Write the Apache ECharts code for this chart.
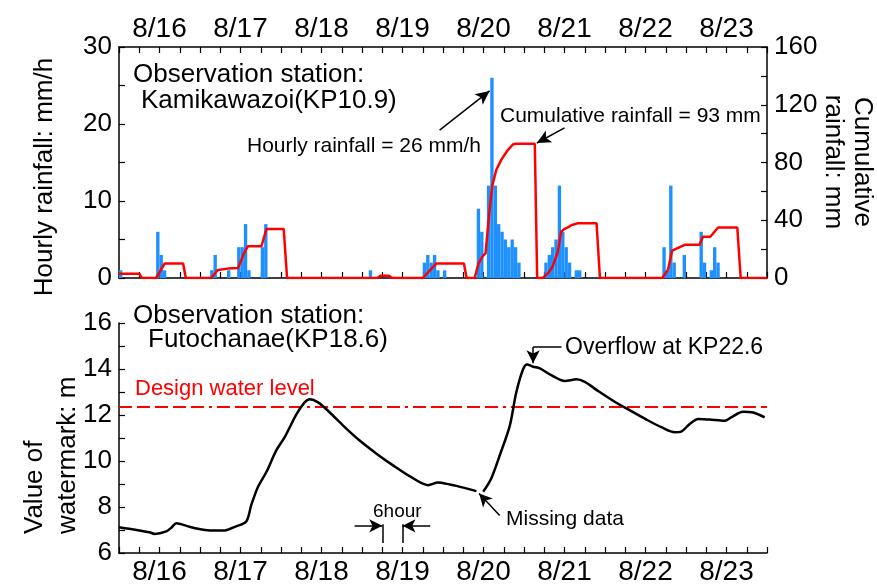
<!DOCTYPE html>
<html>
<head>
<meta charset="utf-8">
<script src="https://cdn.jsdelivr.net/npm/echarts@6/dist/echarts.min.js"></script>
<style>
  html, body { margin: 0; padding: 0; background: #ffffff; }
  #chart { width: 877px; height: 586px; }
</style>
</head>
<body>
<div id="chart"></div>
<script>
// Time axis: hours counted from 8/16 00:00, eight days shown
const dayLabels = ['8/16', '8/17', '8/18', '8/19', '8/20', '8/21', '8/22', '8/23'];
const hoursShown = 192;

// Hourly rainfall at Kamikawazoi (KP10.9): hour index and mm/h
const rainHours = [0, 11, 12, 13, 27, 28, 32, 35, 36, 37, 38, 42, 43, 74,
  90, 91, 92, 93, 94, 96,
  106, 107, 109, 110, 111, 112, 113, 114, 115, 116, 117, 118,
  126, 127, 128, 129, 130, 131, 132, 133, 135, 136,
  161, 162, 163, 164, 167, 172, 173, 175, 176, 177];
const rainValues = [1, 6, 3, 1, 1, 3, 1, 4, 4, 7, 1, 4, 7, 1,
  2, 3, 2, 3, 1, 1,
  9, 6, 12, 26, 12, 7, 6, 5, 4, 5, 4, 2,
  2, 3, 4, 5, 12, 6, 4, 2, 1, 1,
  4, 1, 12, 2, 3, 6, 2, 1, 4, 2];

// Cumulative rainfall per event (mm)
const cumHours = [0, 6, 6.8,
  11, 13.5, 19, 19.8,
  27.3, 29.3, 32.3, 35.3, 37.2, 38.2, 42.2, 43.7, 48.8, 49.8,
  76.5, 77.5, 80, 81,
  90, 94, 102.2, 103,
  105.4, 106.5, 107.7, 108.6, 109.8, 110.6, 111.8, 113.3, 115, 116.7, 117.5, 123.2, 123.9,
  125.5, 127, 128.5, 130, 131, 132, 133, 134, 136, 141.5, 142.5,
  161, 162.7, 163.9, 167.6, 172, 173, 175.2, 177.5, 183.2, 184.2, 192];
const cumValues = [3, 3, 0,
  0, 10, 10, 0,
  0, 5.5, 6.5, 7, 18, 22, 22, 34, 34, 0,
  0, 1.5, 1.5, 0,
  0, 10, 10, 0,
  0, 10, 15, 17, 47, 64, 75, 82, 88, 92.5, 93, 93, 0,
  0, 3, 8, 18, 32, 34, 35, 36.5, 38, 38, 0,
  0, 6, 19, 23, 23, 28.6, 28.6, 35, 35, 0, 0];

// Water level at Futochanae (KP18.6), m; null marks the missing record
const levelHours = [0, 3, 6, 9, 10.6, 14, 15.5, 17, 20, 23.4, 26.9, 31.3, 34.3, 37.7,
  39.2, 41.2, 43.7, 46.6, 49.1, 52.6, 55, 56.5, 59, 62.4, 66.4, 71.3, 76.3, 81.2,
  86.1, 91.6, 94.5, 98, 100, 105.9, 106.9, 107.9, 110.3, 112.8, 115.8, 117.7, 119.7,
  120.9, 122.7, 124.7, 128.1, 132.1, 135.5, 138, 141.9, 146.4, 150.3, 156.3, 160.7,
  164.7, 166.6, 169.1, 171.6, 175, 179.5, 181.4, 184.9, 187.9, 191.3];
const levelValues = [7.12, 7.05, 6.98, 6.9, 6.83, 6.94, 7.1, 7.29, 7.18, 7.05, 6.98, 6.98, 7.14, 7.37,
  8.09, 8.88, 9.53, 10.46, 11.04, 12.04, 12.55, 12.69, 12.55, 12.12, 11.54, 10.89, 10.32, 9.81,
  9.34, 8.95, 9.06, 8.98, 8.92, 8.69, null, 8.66, 9.24, 10.24, 11.54, 12.98, 13.98,
  14.2, 14.1, 14.03, 13.73, 13.48, 13.55, 13.44, 13.05, 12.62, 12.29, 11.8, 11.47,
  11.25, 11.28, 11.61, 11.83, 11.8, 11.75, 11.9, 12.14, 12.11, 11.9];

const designLevel = 12.35;

const FONT = "'Liberation Sans', Arial, Helvetica, sans-serif";
const BLACK = '#000000';
const RED = '#ff0000';
const BLUE = '#1e90ff';

const gridLeft = 119;
const gridWidth = 648;

const chart = echarts.init(document.getElementById('chart'), null, { renderer: 'canvas' });

function dayLabel(v) {
  return (v % 24 === 12) ? dayLabels[(v - 12) / 24] : '';
}

function timeAxis(gridIndex, position, showLabels, margin) {
  return {
    type: 'value', gridIndex: gridIndex, position: position,
    min: 0, max: hoursShown, interval: 6,
    axisLine: { show: true, onZero: false, lineStyle: { color: BLACK, width: 1.5 } },
    axisTick: { show: true, inside: true, length: 6, lineStyle: { color: BLACK, width: 1.2 } },
    axisLabel: { show: showLabels, formatter: dayLabel, color: BLACK, fontSize: 28,
      fontFamily: FONT, margin: margin },
    splitLine: { show: false }
  };
}

function valueAxis(gridIndex, position, min, max, interval, labelStep) {
  return {
    type: 'value', gridIndex: gridIndex, position: position,
    min: min, max: max, interval: interval,
    axisLine: { show: true, onZero: false, lineStyle: { color: BLACK, width: 1.5 } },
    axisTick: { show: true, inside: true, length: 6, lineStyle: { color: BLACK, width: 1.2 } },
    axisLabel: {
      color: BLACK, fontSize: 26, fontFamily: FONT, margin: 7,
      formatter: function (v) { return (Math.round(v - min) % labelStep === 0) ? String(v) : ''; }
    },
    splitLine: { show: false }
  };
}

const arrowLine = { color: BLACK, width: 1.5, type: 'solid' };

function pair(xs, ys) { return xs.map(function (x, i) { return [x, ys[i] === null ? '-' : ys[i]]; }); }

const option = {
  animation: false,
  backgroundColor: '#ffffff',
  grid: [
    { left: gridLeft, top: 47, width: gridWidth, height: 231, containLabel: false },
    { left: gridLeft, top: 323, width: gridWidth, height: 232, containLabel: false }
  ],
  xAxis: [
    timeAxis(0, 'bottom', false, 8),
    timeAxis(0, 'top', true, 4),
    timeAxis(1, 'bottom', true, 5)
  ],
  yAxis: [
    valueAxis(0, 'left', 0, 30, 5, 10),
    valueAxis(0, 'right', 0, 160, 20, 40),
    valueAxis(1, 'left', 6, 16, 1, 2)
  ],
  series: [
    {
      name: 'Hourly rainfall', type: 'bar', xAxisIndex: 0, yAxisIndex: 0,
      data: rainHours.map(function (h, i) { return [h + 0.5, rainValues[i]]; }),
      barWidth: gridWidth / hoursShown,
      itemStyle: { color: BLUE },
      markLine: {
        silent: true, animation: false, symbol: ['none', 'arrow'], symbolSize: [10, 14],
        label: { show: false }, lineStyle: arrowLine,
        data: [[{ coord: [95, 19.2] }, { coord: [109.8, 24.3] }]]
      }
    },
    {
      name: 'Cumulative rainfall', type: 'line', xAxisIndex: 0, yAxisIndex: 1,
      data: pair(cumHours, cumValues), symbol: 'none',
      lineStyle: { color: RED, width: 2.5 }, itemStyle: { color: RED },
      markLine: {
        silent: true, animation: false, symbol: ['none', 'arrow'], symbolSize: [10, 14],
        label: { show: false }, lineStyle: arrowLine,
        data: [[{ coord: [132, 104] }, { coord: [123.8, 93.5] }]]
      }
    },
    {
      name: 'Design water level', type: 'line', xAxisIndex: 2, yAxisIndex: 2,
      data: [[0, designLevel], [hoursShown, designLevel]], symbol: 'none',
      lineStyle: { color: RED, width: 2, type: [13, 5, 13, 5, 13, 5, 13, 5, 13, 5, 3, 5] }
    },
    {
      name: 'Water level', type: 'line', xAxisIndex: 2, yAxisIndex: 2,
      data: pair(levelHours, levelValues), symbol: 'none', smooth: 0.3, connectNulls: false,
      lineStyle: { color: BLACK, width: 2.5 }, itemStyle: { color: BLACK },
      markLine: {
        silent: true, animation: false, symbol: ['none', 'arrow'], symbolSize: [10, 13],
        label: { show: false }, lineStyle: arrowLine,
        data: [
          [{ coord: [131.1, 14.96] }, { coord: [122.7, 14.96], symbol: 'none' }],
          [{ coord: [122.7, 14.96] }, { coord: [122.7, 14.25] }],
          [{ coord: [112.8, 7.63] }, { coord: [106.7, 8.59] }],
          [{ coord: [78, 6.43] }, { coord: [78, 7.25], symbol: 'none' }],
          [{ coord: [84, 6.43] }, { coord: [84, 7.25], symbol: 'none' }],
          [{ coord: [69.8, 7.18] }, { coord: [78, 7.18] }],
          [{ coord: [92.2, 7.18] }, { coord: [84, 7.18] }]
        ]
      }
    }
  ],
  graphic: [
    { type: 'text', x: 45, y: 177, rotation: Math.PI / 2, silent: true,
      style: { text: 'Hourly rainfall: mm/h', font: '26px ' + FONT, fill: BLACK, align: 'center', verticalAlign: 'middle' } },
    { type: 'text', x: 848, y: 162, rotation: -Math.PI / 2, silent: true,
      style: { text: 'Cumulative\nrainfall: mm', font: '26px ' + FONT, lineHeight: 29, fill: BLACK, align: 'center', verticalAlign: 'middle' } },
    { type: 'text', x: 51, y: 534, rotation: Math.PI / 2, silent: true,
      style: { text: 'Value of\nwatermark: m', font: '26px ' + FONT, lineHeight: 33, fill: BLACK, align: 'left', verticalAlign: 'middle' } },
    { type: 'text', x: 133, y: 75, silent: true,
      style: { text: 'Observation station:', font: '26px ' + FONT, fill: BLACK, verticalAlign: 'middle' } },
    { type: 'text', x: 141, y: 101, silent: true,
      style: { text: 'Kamikawazoi(KP10.9)', font: '26px ' + FONT, fill: BLACK, verticalAlign: 'middle' } },
    { type: 'text', x: 247, y: 146, silent: true,
      style: { text: 'Hourly rainfall = 26 mm/h', font: '21px ' + FONT, fill: BLACK, verticalAlign: 'middle' } },
    { type: 'text', x: 500, y: 116, silent: true,
      style: { text: 'Cumulative rainfall = 93 mm', font: '21px ' + FONT, fill: BLACK, verticalAlign: 'middle' } },
    { type: 'text', x: 133, y: 316, silent: true,
      style: { text: 'Observation station:', font: '26px ' + FONT, fill: BLACK, verticalAlign: 'middle' } },
    { type: 'text', x: 148, y: 340, silent: true,
      style: { text: 'Futochanae(KP18.6)', font: '26px ' + FONT, fill: BLACK, verticalAlign: 'middle' } },
    { type: 'text', x: 135, y: 389, silent: true,
      style: { text: 'Design water level', font: '22px ' + FONT, fill: RED, verticalAlign: 'middle' } },
    { type: 'text', x: 565, y: 348, silent: true,
      style: { text: 'Overflow at KP22.6', font: '23px ' + FONT, fill: BLACK, verticalAlign: 'middle' } },
    { type: 'text', x: 506, y: 519, silent: true,
      style: { text: 'Missing data', font: '21px ' + FONT, fill: BLACK, verticalAlign: 'middle' } },
    { type: 'text', x: 373, y: 512, silent: true,
      style: { text: '6hour', font: '19px ' + FONT, fill: BLACK, verticalAlign: 'middle' } }
  ]
};

chart.setOption(option);
</script>
</body>
</html>
